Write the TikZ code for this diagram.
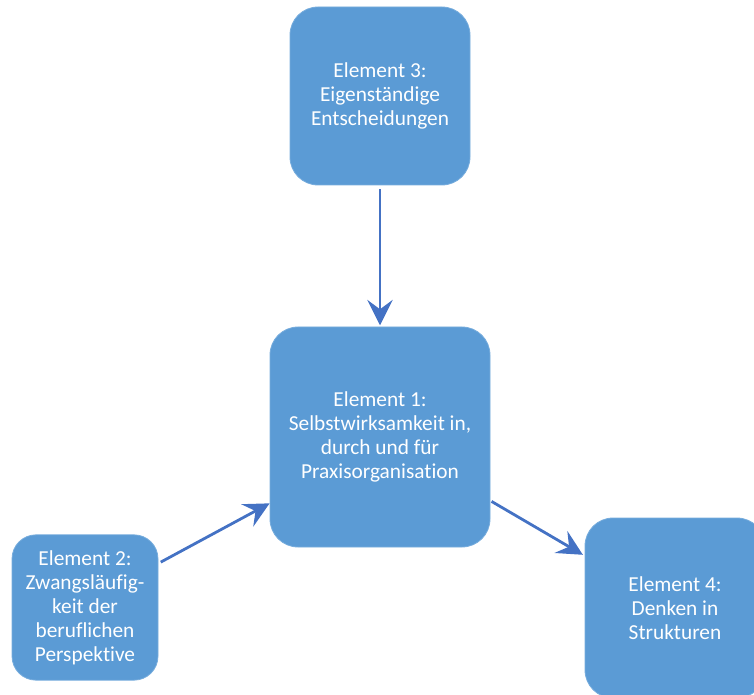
\documentclass[tikz,border=0pt]{standalone}
\usepackage{fontspec}
\setmainfont{Carlito}[Ligatures=NoCommon]
\usetikzlibrary{arrows.meta}
\definecolor{boxfill}{HTML}{5B9BD5}
\definecolor{boxedge}{HTML}{78ADDD}
\definecolor{arrowblue}{HTML}{4472C4}

\begin{document}
\begin{tikzpicture}[
  x=0.75pt,
  y=-0.75pt,
  element/.style={rectangle,rounded corners=21pt,fill=boxfill,draw=boxedge,
    line width=0.6pt,text=white,align=center,inner sep=0pt,
    font=\fontsize{16pt}{18pt}\selectfont},
  link/.style={draw=arrowblue,line width=2.1pt,
    -{Stealth[length=19pt,width=19pt,inset=7pt]}}
]
  % Fixed page, same size as the source image.
  \useasboundingbox (0,0) rectangle (754,695);
  \clip (0,0) rectangle (754,695);

  % The four elements.
  \node[element,minimum width=135pt,minimum height=133.5pt] (elemdrei) at (380,96)
    {Element 3:\\Eigenständige\\Entscheidungen};
  \node[element,minimum width=165pt,minimum height=165pt] (elemeins) at (380,437)
    {Element 1:\\Selbstwirksamkeit in,\\durch und für\\Praxisorganisation};
  \node[element,minimum width=109.5pt,minimum height=109pt,rounded corners=18pt] (elemzwei) at (85,607.5)
    {Element 2:\\Zwangsläufig-\\keit der\\beruflichen\\Perspektive};
  \node[element,minimum width=135pt,minimum height=135pt] (elemvier) at (675,608)
    {Element 4:\\Denken in\\Strukturen};

  % Connectors between the elements.
  \draw[link,shorten <=3pt,shorten >=1pt] (elemdrei.south) -- (elemeins.north);
  \draw[link,shorten <=2pt,shorten >=0pt] (elemzwei.31) -- (elemeins.211);
  \draw[link,shorten <=1pt,shorten >=1.5pt] (elemeins.-30) -- (elemvier.150);
\end{tikzpicture}
\end{document}
